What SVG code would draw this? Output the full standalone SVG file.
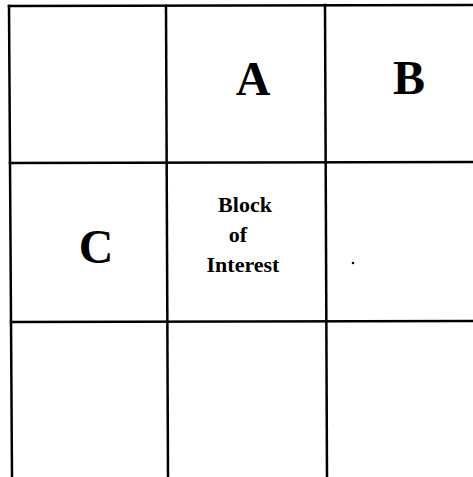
<svg xmlns="http://www.w3.org/2000/svg" width="473" height="477" viewBox="0 0 473 477">
<style>
.ln{stroke:#000;stroke-width:2.5;fill:none;stroke-linecap:square}
.big{font-family:"Liberation Serif",serif;font-weight:bold;font-size:48px;fill:#000;text-anchor:middle}
.sm{font-family:"Liberation Serif",serif;font-weight:bold;font-size:22px;fill:#000;text-anchor:middle}
</style>
<rect width="473" height="477" fill="#fff"/>
<g id="connectors">
<line class="ln" x1="9" y1="6" x2="473" y2="5"/>
<line class="ln" x1="10" y1="163" x2="473" y2="162"/>
<line class="ln" x1="11" y1="322" x2="473" y2="321"/>
<line class="ln" x1="9" y1="6" x2="12" y2="477"/>
<line class="ln" x1="166" y1="6" x2="168" y2="477"/>
<line class="ln" x1="325" y1="5" x2="327" y2="477"/>
</g>
<g id="A"><text class="big" x="253" y="95">A</text></g>
<g id="B"><text class="big" x="409" y="94">B</text></g>
<g id="C"><text class="big" x="96" y="263">C</text></g>
<g id="block">
<text class="sm" x="245" y="212">Block</text>
<text class="sm" x="238" y="242">of</text>
<text class="sm" x="243" y="272">Interest</text>
</g>
<circle cx="353" cy="263" r="1.3" fill="#000"/>
</svg>
